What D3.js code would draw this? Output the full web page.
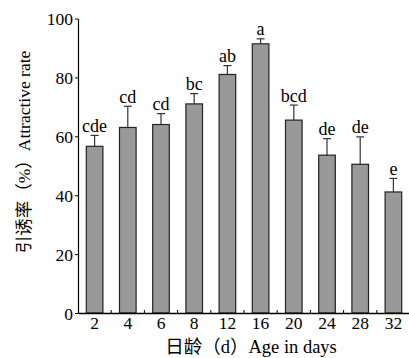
<!DOCTYPE html>
<html>
<head>
<meta charset="utf-8">
<script src="https://cdn.jsdelivr.net/npm/d3@7"></script>
<style>
  html,body{margin:0;padding:0;background:#fff;}
  svg text{font-family:"Liberation Serif","Times New Roman","Noto Sans CJK SC",serif;fill:#000;}
</style>
</head>
<body>
<div id="chart"></div>
<script>
/* ---------- DATA ---------- */
const AGES=["2","4","6","8","12","16","20","24","28","32"];
const RATE=[56.6,63.0,64.0,71.0,81.0,91.4,65.5,53.6,50.5,41.1];
const ERR=[3.7,7.2,3.7,3.5,3.0,1.7,5.1,5.6,9.3,4.6];
const SIG=["cde","cd","cd","bc","ab","a","bcd","de","de","e"];
const Y_TICKS=[0,20,40,60,80,100];

/* ---------- CONFIG ---------- */
const W=409, H=358;
const M={top:18.5,right:-1,bottom:45,left:78};
const BAR_FILL="#999999", BAR_STROKE="#222";
const FS="17.5px";

const svg=d3.select("#chart").append("svg").attr("width",W).attr("height",H);

const x=d3.scaleBand().domain(AGES).range([M.left,W-M.right])
          .paddingInner(0.5).paddingOuter(0.25);
const y=d3.scaleLinear().domain([0,100]).range([H-M.bottom,M.top]);

/* bars */
svg.selectAll("rect.bar").data(AGES).enter().append("rect")
   .attr("class","bar")
   .attr("x",d=>x(d)).attr("width",x.bandwidth())
   .attr("y",(d,i)=>y(RATE[i])).attr("height",(d,i)=>y(0)-y(RATE[i]))
   .attr("fill",BAR_FILL).attr("stroke",BAR_STROKE).attr("stroke-width",1.2);

/* error bars (upper only) */
const eb=svg.append("g").attr("stroke","#333").attr("stroke-width",1.2);
AGES.forEach((d,i)=>{
  const cx=x(d)+x.bandwidth()/2, top=y(RATE[i]+ERR[i]);
  eb.append("line").attr("x1",cx).attr("x2",cx).attr("y1",y(RATE[i])).attr("y2",top);
  eb.append("line").attr("x1",cx-4).attr("x2",cx+4).attr("y1",top).attr("y2",top);
});

/* significance letters */
svg.selectAll("text.sig").data(AGES).enter().append("text")
   .attr("class","sig")
   .attr("x",d=>x(d)+x.bandwidth()/2)
   .attr("y",(d,i)=>y(RATE[i]+ERR[i])-3.5)
   .attr("text-anchor","middle").style("font-size","18px")
   .text((d,i)=>SIG[i]);

/* y axis */
const ya=svg.append("g").attr("transform",`translate(${M.left},0)`)
   .call(d3.axisLeft(y).tickValues(Y_TICKS).tickSize(3).tickPadding(2).tickSizeOuter(0));
ya.select(".domain").attr("stroke","#000").attr("stroke-width",1.2);
ya.selectAll(".tick line").attr("stroke","#000");
ya.selectAll("text").style("font-size",FS)
   .style("font-family","Liberation Serif, serif").attr("dy","0.35em");

/* x axis */
const xa=svg.append("g").attr("transform",`translate(0,${y(0)})`)
   .call(d3.axisBottom(x).tickSize(0).tickPadding(4).tickSizeOuter(0));
xa.select(".domain").attr("stroke","#000").attr("stroke-width",1.5);
xa.selectAll("text").style("font-size",FS)
   .style("font-family","Liberation Serif, serif");

/* minor ticks between bars, pointing up */
const step=x.step();
svg.append("g").selectAll("line").data(AGES.slice(1)).enter().append("line")
   .attr("x1",d=>x(d)-step*0.25).attr("x2",d=>x(d)-step*0.25)
   .attr("y1",y(0)).attr("y2",y(0)-3)
   .attr("stroke","#000").attr("stroke-width",1);

/* axis titles */
svg.append("text")
   .attr("transform",`translate(30,152) rotate(-90)`)
   .attr("text-anchor","middle").style("font-size",FS)
   .text("引诱率（%）Attractive rate");
svg.append("text")
   .attr("x",251).attr("y",353)
   .attr("text-anchor","middle").style("font-size","18.5px")
   .text("日龄（d）Age in days");
</script>
</body>
</html>
